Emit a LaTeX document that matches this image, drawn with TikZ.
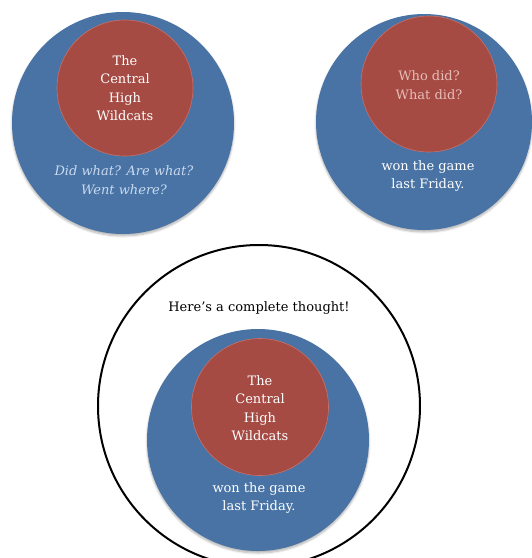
\documentclass[tikz,border=0pt]{standalone}
\usepackage{fontspec}
\setmainfont{DejaVu Serif}
\usetikzlibrary{shadows.blur}
\definecolor{bluec}{HTML}{4873A4}
\definecolor{redc}{HTML}{A54B44}
\definecolor{redrim}{HTML}{C8716A}
\definecolor{pinktxt}{HTML}{E8BDB8}
\definecolor{lbluetxt}{HTML}{C9DAF0}
\tikzset{
  outer/.style={circle, fill=bluec, draw=none, inner sep=0pt, minimum size=#1, blur shadow={shadow xshift=0pt, shadow yshift=-2pt, shadow blur steps=6, shadow opacity=30}},
  inner/.style={circle, fill=redc, draw=redrim, line width=0.6pt, inner sep=0pt, minimum size=#1},
  thought/.style={circle, draw=black, line width=2pt, inner sep=0pt, minimum size=#1},
  txt/.style={text=white, font=\fontsize{13}{18.5}\selectfont, align=center, inner sep=0pt},
}
\begin{document}
\begin{tikzpicture}[x=1pt, y=-1pt]
\useasboundingbox (0,0) rectangle (532,558);
\clip (0,0) rectangle (532,558);
% top left
\node[outer=222pt] (b1) at (123,123) {};
\node[inner=136pt] (r1) at (125,88) {};
\node[txt] (t1) at (125,88) {The\\Central\\High\\Wildcats};
\node[txt, text=lbluetxt, font=\fontsize{13}{18.5}\selectfont\itshape] (p1) at (124,180) {Did what? Are what?\\Went where?};
% top right
\node[outer=216pt] (b2) at (424,122) {};
\node[inner=136pt] (r2) at (429,84) {};
\node[txt, text=pinktxt] (t2) at (429,85) {Who did?\\What did?};
\node[txt] (p2) at (428,176) {won the game\\last Friday.};
% bottom
\node[thought=322pt] (c3) at (259,406) {};
\node[txt, text=black] (h3) at (259,308) {Here’s a complete thought!};
\node[outer=222pt] (b3) at (258,440) {};
\node[inner=137pt] (r3) at (260,407) {};
\node[txt] (t3) at (260,408) {The\\Central\\High\\Wildcats};
\node[txt] (p3) at (259,498) {won the game\\last Friday.};
\end{tikzpicture}
\end{document}
